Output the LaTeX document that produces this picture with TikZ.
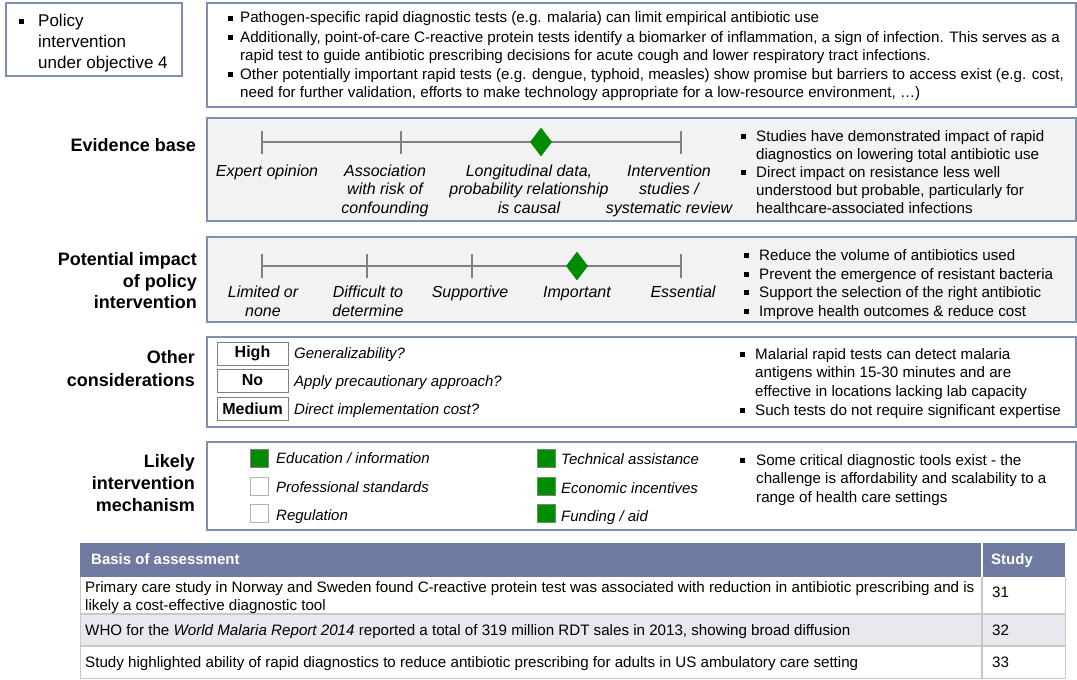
\documentclass[tikz,border=0pt]{standalone}
\usepackage{fontspec}
\setmainfont{Liberation Sans}
\usetikzlibrary{shapes.geometric}
\definecolor{frame}{RGB}{127,143,175}
\definecolor{panel}{RGB}{242,242,242}
\definecolor{scaleline}{RGB}{128,128,128}
\definecolor{mark}{RGB}{0,140,0}
\definecolor{tablehead}{RGB}{111,122,161}
\definecolor{rowalt}{RGB}{232,233,238}
\definecolor{rule}{RGB}{200,200,200}
\begin{document}
\begin{tikzpicture}[x=1pt,y=-1pt,
  txt/.style={anchor=base west,inner sep=0pt,font=\fontsize{15.15}{18}\selectfont},
  big/.style={anchor=base west,inner sep=0pt,font=\fontsize{17}{21}\selectfont},
  head/.style={anchor=base east,inner sep=0pt,font=\fontsize{18}{21}\selectfont\bfseries},
  scl/.style={anchor=base,inner sep=0pt,font=\fontsize{16}{19}\selectfont\itshape},
  ita/.style={anchor=base west,inner sep=0pt,font=\fontsize{15}{18}\selectfont\itshape},
  val/.style={draw=scaleline,line width=0.8pt,fill=white,minimum width=71pt,minimum height=23pt,inner sep=0pt,font=\fontsize{16}{19}\selectfont\bfseries},
  bul/.style={rectangle,fill=black,minimum size=5pt,inner sep=0pt},
  panelbox/.style={draw=frame,line width=1.2pt},
  tick/.style={draw=scaleline,line width=2pt},
  dia/.style={diamond,fill=mark,inner sep=0pt,minimum width=22pt,minimum height=29pt,aspect=0.76},
  chk/.style={rectangle,draw=scaleline,line width=0.8pt,minimum size=18pt,inner sep=0pt},
  on/.style={chk,fill=mark},
  off/.style={chk,fill=white,draw=gray!60},
  cell/.style={anchor=base west,inner sep=0pt,font=\fontsize{15.15}{18}\selectfont},
  cellhead/.style={anchor=base west,inner sep=0pt,text=white,font=\fontsize{15}{18}\selectfont\bfseries}]
\useasboundingbox (0,0) rectangle (1077,680);
\fill[white] (0,0) rectangle (1077,680);

% ---- policy intervention ----
\draw[panelbox,fill=white] (6,3) rectangle (182,76);
\node[bul] (pb) at (21,21.5) {};
\node[big] (p1) at (38,26) {Policy};
\node[big] (p2) at (38,47) {intervention};
\node[big] (p3) at (38,68) {under objective 4};

\draw[panelbox,fill=white] (207,3) rectangle (1076,107);
\node[bul] (d1b) at (230,18.5) {};
\node[bul] (d2b) at (230,37.5) {};
\node[bul] (d4b) at (230,74.5) {};
\node[txt] (d1) at (240,23) {Pathogen-specific rapid diagnostic tests (e.g. malaria) can limit empirical antibiotic use};
\node[txt] (d2) at (240,42) {Additionally, point-of-care C-reactive protein tests identify a biomarker of inflammation, a sign of infection. This serves as a};
\node[txt] (d3) at (240,60) {rapid test to guide antibiotic prescribing decisions for acute cough and lower respiratory tract infections.};
\node[txt] (d4) at (240,79) {Other potentially important rapid tests (e.g. dengue, typhoid, measles) show promise but barriers to access exist (e.g. cost,};
\node[txt] (d5) at (240,97) {need for further validation, efforts to make technology appropriate for a low-resource environment, …)};

% ---- evidence base ----
\draw[panelbox,fill=panel] (207,118) rectangle (1076,221);
\node[head] (eh) at (196,151) {Evidence base};
\draw[tick] (262,142) -- (681,142);
\foreach \x in {262,401,541,681} \draw[tick] (\x,131) -- (\x,154);
\node[dia] (ed) at (541,142) {};
\node[scl] (e1) at (267,176) {Expert opinion};
\node[scl] (e2a) at (385,176) {Association};
\node[scl] (e2b) at (385,194.5) {with risk of};
\node[scl] (e2c) at (385,213) {confounding};
\node[scl] (e3a) at (529,176) {Longitudinal data,};
\node[scl] (e3b) at (529,194.5) {probability relationship};
\node[scl] (e3c) at (529,213) {is causal};
\node[scl] (e4a) at (669,176) {Intervention};
\node[scl] (e4b) at (669,194.5) {studies /};
\node[scl] (e4c) at (669,213) {systematic review};
\node[bul] (eb1) at (743,136.5) {};
\node[bul] (eb2) at (743,172.5) {};
\node[txt] (et1) at (756,141) {Studies have demonstrated impact of rapid};
\node[txt] (et2) at (756,159) {diagnostics on lowering total antibiotic use};
\node[txt] (et3) at (756,177) {Direct impact on resistance less well};
\node[txt] (et4) at (756,195) {understood but probable, particularly for};
\node[txt] (et5) at (756,213) {healthcare-associated infections};

% ---- potential impact ----
\draw[panelbox,fill=panel] (207,237) rectangle (1076,322);
\node[head] (ih1) at (197,265) {Potential impact};
\node[head] (ih2) at (197,287) {of policy};
\node[head] (ih3) at (197,308) {intervention};
\draw[tick] (262,266) -- (681,266);
\foreach \x in {262,367,472,577,681} \draw[tick] (\x,254) -- (\x,278);
\node[dia] (id) at (577,266) {};
\node[scl] (i1a) at (263,297) {Limited or};
\node[scl] (i1b) at (263,316) {none};
\node[scl] (i2a) at (368,297) {Difficult to};
\node[scl] (i2b) at (368,316) {determine};
\node[scl] (i3) at (470,297) {Supportive};
\node[scl] (i4) at (577,297) {Important};
\node[scl] (i5) at (683,297) {Essential};
\foreach \y [count=\k] in {255.5,274.5,292.5,311.5} \node[bul] (ib\k) at (746,\y) {};
\node[txt] (it1) at (759,260) {Reduce the volume of antibiotics used};
\node[txt] (it2) at (759,279) {Prevent the emergence of resistant bacteria};
\node[txt] (it3) at (759,297) {Support the selection of the right antibiotic};
\node[txt] (it4) at (759,316) {Improve health outcomes \& reduce cost};

% ---- other considerations ----
\draw[panelbox,fill=white] (207,337) rectangle (1076,427);
\node[head] (oh1) at (195,363) {Other};
\node[head] (oh2) at (195,386) {considerations};
\node[val] (v1) at (252.5,353.5) {High};
\node[val] (v2) at (252.5,380.5) {No};
\node[val] (v3) at (252.5,409) {Medium};
\node[ita] (q1) at (294,358) {Generalizability?};
\node[ita] (q2) at (294,386) {Apply precautionary approach?};
\node[ita] (q3) at (294,414) {Direct implementation cost?};
\node[bul] (ob1) at (742,354.5) {};
\node[bul] (ob2) at (742,410.5) {};
\node[txt] (ot1) at (755,359) {Malarial rapid tests can detect malaria};
\node[txt] (ot2) at (755,377) {antigens within 15-30 minutes and are};
\node[txt] (ot3) at (755,396) {effective in locations lacking lab capacity};
\node[txt] (ot4) at (755,415) {Such tests do not require significant expertise};

% ---- intervention mechanism ----
\draw[panelbox,fill=white] (207,442) rectangle (1076,530);
\node[head] (mh1) at (195,467) {Likely};
\node[head] (mh2) at (195,489) {intervention};
\node[head] (mh3) at (195,511) {mechanism};
\node[on]  (c1) at (259,458) {};
\node[off] (c2) at (259,486) {};
\node[off] (c3) at (259,513) {};
\node[on]  (c4) at (546,458) {};
\node[on]  (c5) at (546,486) {};
\node[on]  (c6) at (546,513) {};
\node[ita] (m1) at (276,463) {Education / information};
\node[ita] (m2) at (276,492) {Professional standards};
\node[ita] (m3) at (276,520) {Regulation};
\node[ita] (m4) at (561,464) {Technical assistance};
\node[ita] (m5) at (561,493) {Economic incentives};
\node[ita] (m6) at (561,521) {Funding / aid};
\node[bul] (mb1) at (742,460.5) {};
\node[txt] (mt1) at (756,465) {Some critical diagnostic tools exist - the};
\node[txt] (mt2) at (756,483) {challenge is affordability and scalability to a};
\node[txt] (mt3) at (756,502) {range of health care settings};

% ---- basis of assessment table ----
\fill[tablehead] (80,543) rectangle (1065,577);
\fill[rowalt] (80,614) rectangle (1065,646);
\draw[rule,line width=1.5pt] (80,614) -- (1065,614);
\draw[rule,line width=1.5pt] (80,646) -- (1065,646);
\draw[rule,line width=1pt] (80,577) -- (80,678) -- (1065,678) -- (1065,577);
\draw[rule,line width=1.2pt] (982,577) -- (982,678);
\draw[white,line width=1.2pt] (982,543) -- (982,577);
\node[cellhead] (th1) at (91,564) {Basis of assessment};
\node[cellhead] (th2) at (991,564) {Study};
\node[cell] (r1a) at (85,592) {Primary care study in Norway and Sweden found C-reactive protein test was associated with reduction in antibiotic prescribing and is};
\node[cell] (r1b) at (85,610) {likely a cost-effective diagnostic tool};
\node[cell] (r2) at (85,635) {WHO for the \textit{World Malaria Report 2014} reported a total of 319 million RDT sales in 2013, showing broad diffusion};
\node[cell] (r3) at (85,667) {Study highlighted ability of rapid diagnostics to reduce antibiotic prescribing for adults in US ambulatory care setting};
\node[cell] (s1) at (992,597) {31};
\node[cell] (s2) at (992,635) {32};
\node[cell] (s3) at (992,667) {33};
\end{tikzpicture}
\end{document}
